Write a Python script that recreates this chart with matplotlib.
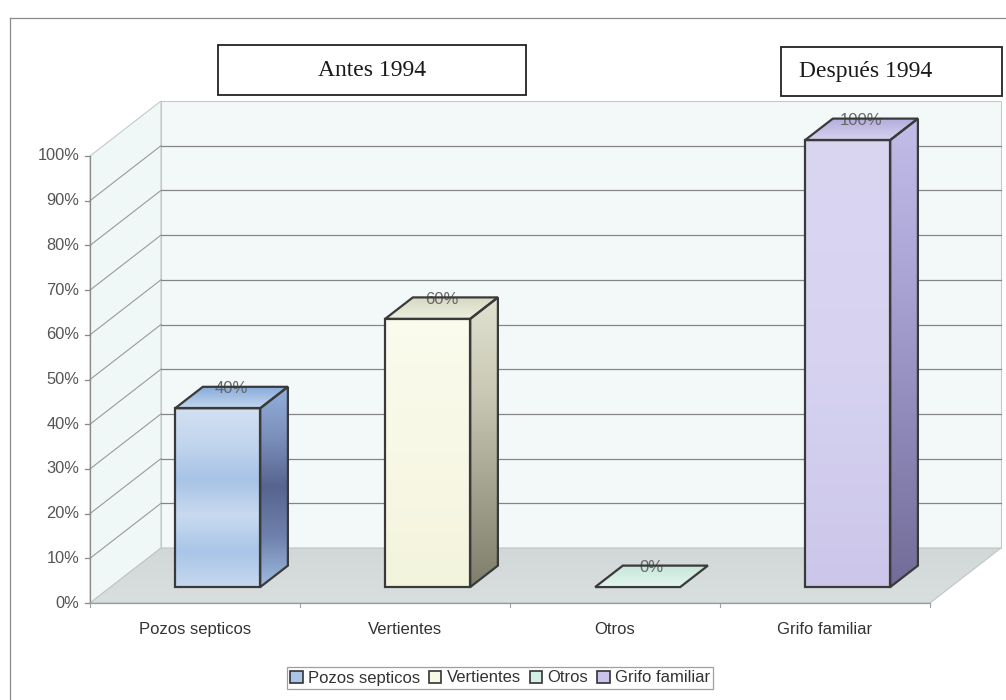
import numpy as np
import matplotlib
matplotlib.use('Agg')
import matplotlib.pyplot as plt
from matplotlib.patches import Polygon, Rectangle
from matplotlib.colors import LinearSegmentedColormap

plt.rcParams['font.family'] = ['Liberation Sans', 'DejaVu Sans']

# data
categorias = ['Pozos septicos', 'Vertientes', 'Otros', 'Grifo familiar']
valores = [40, 60, 0, 100]
etiquetas = ['40%', '60%', '0%', '100%']
yticks = [0, 10, 20, 30, 40, 50, 60, 70, 80, 90, 100]
ytick_labels = ['0%', '10%', '20%', '30%', '40%', '50%', '60%', '70%', '80%', '90%', '100%']
periodos = ['Antes 1994', 'Después 1994']

# colours per bar (front bottom->top, side bottom->top, top front->back)
front_cols = [['#C6D8EF', '#A9C5E7', '#C9DAF0', '#A7C3E6', '#C2D5EE', '#D3E0F2'],
              ['#F3F4DC', '#F8F8E6', '#FBFBEE'],
              ['#D4EFE3', '#D4EFE3'],
              ['#CCC7EA', '#D6D2F0', '#DAD6F2']]
side_cols = [['#9FBCE2', '#6F81AC', '#56658F', '#7C90BC', '#93B0DA'],
             ['#7E7E6A', '#A2A28E', '#C8C8B4', '#E2E2D2'],
             ['#B8D8CA', '#B8D8CA'],
             ['#726C98', '#8E88B8', '#ABA5D6', '#C2BDE8']]
top_cols = [['#C3D6EE', '#86AADA'],
            ['#EEF0E0', '#D6D8C2'],
            ['#E4F6EE', '#C6E6D8'],
            ['#D6D2F0', '#B2ACDC']]
legend_cols = ['#A9C5E7', '#F8F8E6', '#D4EFE3', '#C8C3EA']

# geometry (pseudo 3D)
n = len(categorias)
DX, DY = 0.338, 12.3     # full depth offset
W = 0.405                # bar width
F0, F1 = 0.29, 0.68      # bar depth span
EDGE = '#3A3A3A'

fig = plt.figure(figsize=(10.06, 7.0), dpi=100)
ax = fig.add_axes([0, 0, 1, 1])
ax.set_xlim(-90 / 210, 916 / 210)
ax.set_ylim(-97 / 4.47, 603 / 4.47)
ax.axis('off')


def grad_fill(poly, colors, vertical=True, z=2):
    patch = Polygon(poly, closed=True, facecolor='none', edgecolor='none', zorder=z)
    ax.add_patch(patch)
    pts = np.array(poly)
    x0, x1 = pts[:, 0].min(), pts[:, 0].max()
    y0, y1 = pts[:, 1].min(), pts[:, 1].max()
    if x1 - x0 < 1e-9 or y1 - y0 < 1e-9:
        return
    cmap = LinearSegmentedColormap.from_list('g', colors)
    g = np.linspace(0, 1, 256)
    arr = g.reshape(-1, 1) if vertical else g.reshape(1, -1)
    im = ax.imshow(arr, extent=[x0, x1, y0, y1], origin='lower', cmap=cmap,
                   aspect='auto', zorder=z, interpolation='bilinear')
    im.set_clip_path(patch)


# walls and floor
side = [(0, 0), (0, 100), (DX, 100 + DY), (DX, DY)]
back = [(DX, DY), (DX, 100 + DY), (n + DX, 100 + DY), (n + DX, DY)]
floor = [(0, 0), (n, 0), (n + DX, DY), (DX, DY)]
ax.add_patch(Polygon(side, facecolor='#EFF7F7', edgecolor='#C4CACA', lw=0.8, zorder=0))
ax.add_patch(Polygon(back, facecolor='#F3F9F9', edgecolor='#C4CACA', lw=0.8, zorder=0))
grad_fill(floor, ['#D9DEDF', '#D2D7D8'], z=0.5)
ax.add_patch(Polygon(floor, facecolor='none', edgecolor='#C0C6C6', lw=0.8, zorder=0.6))

for t in yticks[1:-1]:
    ax.plot([DX, n + DX], [t + DY, t + DY], color='#858585', lw=0.9, zorder=1)
    ax.plot([0, DX], [t, t + DY], color='#9A9A9A', lw=0.8, zorder=1)

# value axis
ax.plot([0, 0], [0, 100], color='#8A8A8A', lw=0.9, zorder=1)
for t, lab in zip(yticks, ytick_labels):
    ax.plot([-0.024, 0], [t, t], color='#8A8A8A', lw=0.9, zorder=1)
    ax.text(-0.05, t, lab, ha='right', va='center', fontsize=11.8, color='#555555')

# category axis
ax.plot([0, n], [0, 0], color='#9A9A9A', lw=0.9, zorder=1)
for i in range(n + 1):
    ax.plot([i, i], [0, -1.0], color='#A0A0A0', lw=0.8, zorder=1)
for i, cat in enumerate(categorias):
    ax.text(i + 0.5, -6.0, cat, ha='center', va='center', fontsize=12, color='#333333')

# bars
D = F1 - F0
for i, v in enumerate(valores):
    x0 = i + 0.51 - W / 2 + F0 * DX
    b0 = F0 * DY
    bar = ax.bar(x0 + W / 2, v, width=W, bottom=b0, color='none', edgecolor='none', zorder=2)[0]
    ddx, ddy = D * DX, D * DY
    top = [(x0, b0 + v), (x0 + W, b0 + v), (x0 + W + ddx, b0 + v + ddy), (x0 + ddx, b0 + v + ddy)]
    grad_fill(top, top_cols[i], z=2)
    if v > 0:
        front = [(x0, b0), (x0 + W, b0), (x0 + W, b0 + v), (x0, b0 + v)]
        sidef = [(x0 + W, b0), (x0 + W, b0 + v), (x0 + W + ddx, b0 + v + ddy), (x0 + W + ddx, b0 + ddy)]
        grad_fill(front, front_cols[i], z=2)
        grad_fill(sidef, side_cols[i], z=2)
        ax.add_patch(Polygon(front, facecolor='none', edgecolor=EDGE, lw=1.6, zorder=4, joinstyle='miter'))
        ax.add_patch(Polygon(sidef, facecolor='none', edgecolor=EDGE, lw=1.6, zorder=4, joinstyle='miter'))
    ax.add_patch(Polygon(top, facecolor='none', edgecolor=EDGE, lw=1.6, zorder=4, joinstyle='miter'))
    ax.text(x0 + W / 2 + ddx / 2, b0 + v + ddy - 0.4, etiquetas[i], ha='center', va='center',
            fontsize=12, color='#666666', zorder=3)

# outer border
fig.add_artist(plt.Line2D([10 / 1006, 1], [1 - 18 / 700, 1 - 18 / 700], color='#8A8A8A', lw=0.9,
                          transform=fig.transFigure))
fig.add_artist(plt.Line2D([10 / 1006, 10 / 1006], [0, 1 - 18 / 700], color='#8A8A8A', lw=0.9,
                          transform=fig.transFigure))

# period boxes
boxes = [(218, 45, 308, 50), (781, 47, 221, 49)]
text_pos = [(372, 70), (866, 71)]
for (bx, by, bw, bh), (tx, ty), lab in zip(boxes, text_pos, periodos):
    fig.add_artist(Rectangle((bx / 1006, 1 - (by + bh) / 700), bw / 1006, bh / 700,
                             transform=fig.transFigure, facecolor='white', edgecolor='#222222', lw=1.3))
    fig.text(tx / 1006, 1 - ty / 700, lab, ha='center', va='center', fontsize=17,
             family='Liberation Serif', color='#1A1A1A')

# legend
handles = [Rectangle((0, 0), 1, 1, facecolor=c, edgecolor='#333333', lw=1.2) for c in legend_cols]
leg = fig.legend(handles, categorias, loc='center', bbox_to_anchor=(500 / 1006, 1 - 678 / 700),
                 ncol=4, frameon=True, fancybox=False, fontsize=12, handlelength=0.75,
                 handleheight=0.75, handletextpad=0.3, columnspacing=0.55, borderpad=0.2,
                 borderaxespad=0)
leg.get_frame().set_edgecolor('#888888')
leg.get_frame().set_linewidth(0.9)
for txt in leg.get_texts():
    txt.set_color('#333333')

fig.savefig('out.png', dpi=100)
